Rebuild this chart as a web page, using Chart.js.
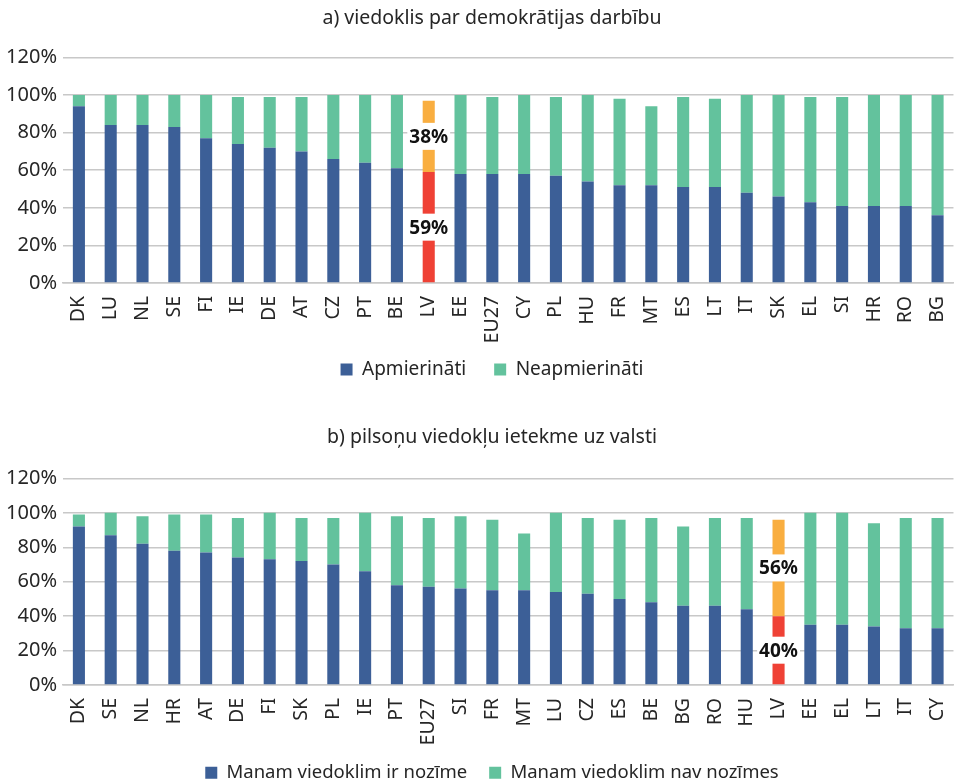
<!DOCTYPE html>
<html>
<head>
<meta charset="utf-8">
<script src="https://cdn.jsdelivr.net/npm/chart.js@4"></script>
<style>
  body { margin: 0; background: #fff; overflow: hidden; }
  .box { position: absolute; left: 0; width: 966px; }
  #boxA { top: 0; height: 389px; }
  #boxB { top: 419px; height: 373px; }
</style>
</head>
<body>
<div class="box" id="boxA"><canvas id="chartA"></canvas></div>
<div class="box" id="boxB"><canvas id="chartB"></canvas></div>
<script>
// a) viedoklis par demokrātijas darbību
const countriesA = ['DK','LU','NL','SE','FI','IE','DE','AT','CZ','PT','BE','LV','EE','EU27','CY','PL','HU','FR','MT','ES','LT','IT','SK','EL','SI','HR','RO','BG'];
const satisfied = [94,84,84,83,77,74,72,70,66,64,61,59,58,58,58,57,54,52,52,51,51,48,46,43,41,41,41,36];
const dissatisfied = [6,16,16,17,23,25,27,29,34,36,39,38,42,41,42,42,46,46,42,48,47,52,54,56,58,59,59,64];

// b) pilsoņu viedokļu ietekme uz valsti
const countriesB = ['DK','SE','NL','HR','AT','DE','FI','SK','PL','IE','PT','EU27','SI','FR','MT','LU','CZ','ES','BE','BG','RO','HU','LV','EE','EL','LT','IT','CY'];
const voiceCounts = [92,87,82,78,77,74,73,72,70,66,58,57,56,55,55,54,53,50,48,46,46,44,40,35,35,34,33,33];
const voiceNot = [7,13,16,21,22,23,27,25,27,34,40,40,42,41,33,46,44,46,49,46,51,53,56,65,65,60,64,64];

const yTicks = [0,20,40,60,80,100,120];

const BLUE = '#3c5f97';
const GREEN = '#63c29d';
const RED = '#ef4135';
const ORANGE = '#f9ae40';
const FONT = 'Noto Sans';
const TEXT = '#262626';

Chart.defaults.font.family = FONT;
Chart.defaults.color = TEXT;

// draws the LV value labels on a white patch
const lvLabels = {
  id: 'lvLabels',
  afterDatasetsDraw(chart) {
    const idx = chart.data.labels.indexOf('LV');
    const ctx = chart.ctx;
    ctx.save();
    ctx.font = 'bold 19px ' + FONT;
    ctx.textAlign = 'center';
    ctx.textBaseline = 'middle';
    chart.data.datasets.forEach((ds, i) => {
      const bar = chart.getDatasetMeta(i).data[idx];
      const y = (bar.y + bar.base) / 2;
      const txt = ds.data[idx] + '%';
      const w = ctx.measureText(txt).width + 4;
      ctx.fillStyle = '#fff';
      ctx.fillRect(bar.x - w / 2, y - 13.5, w, 27);
      ctx.fillStyle = '#111';
      ctx.fillText(txt, bar.x, y + 1);
    });
    ctx.restore();
  }
};

function makeChart(id, title, labels, first, second, names, o) {
  const lv = labels.indexOf('LV');
  return new Chart(document.getElementById(id), {
    type: 'bar',
    data: {
      labels: labels,
      datasets: [{
        label: names[0],
        data: first,
        backgroundColor: c => c.dataIndex === lv ? RED : BLUE
      }, {
        label: names[1],
        data: second,
        backgroundColor: c => c.dataIndex === lv ? ORANGE : GREEN
      }]
    },
    options: {
      responsive: true,
      maintainAspectRatio: false,
      animation: false,
      categoryPercentage: 1,
      barPercentage: 0.38,
      layout: { padding: { left: 20, right: 2, top: 0, bottom: 0 } },
      plugins: {
        title: {
          display: true,
          text: title,
          font: { size: 19.5, weight: 'normal' },
          color: TEXT,
          padding: { top: 7, bottom: o.titleGap }
        },
        legend: {
          position: 'bottom',
          onClick: null,
          labels: {
            boxWidth: 12,
            boxHeight: 12,
            padding: o.legendGap,
            font: { size: o.legendSize },
            color: TEXT
          }
        },
        tooltip: { enabled: false }
      },
      scales: {
        x: {
          stacked: true,
          grid: { display: false },
          border: { color: '#c8c8c8', width: 1.5 },
          ticks: { minRotation: 90, maxRotation: 90, autoSkip: false, font: { size: 19.5 }, padding: 5 },
          afterFit: s => {
            s.height = o.xHeight;
            // let long labels (EU27) run past the shortened axis box
            s._computeLabelArea = () => null;
          }
        },
        y: {
          stacked: true,
          min: 0,
          max: 120,
          afterBuildTicks: s => { s.ticks = yTicks.map(v => ({ value: v })); },
          grid: { color: '#c8c8c8', lineWidth: 1.5, drawTicks: false },
          border: { display: false },
          ticks: { font: { size: 20 }, padding: 6, callback: v => v + '%' },
          afterFit: s => {
            s.width = 43;
            s._computeLabelArea = () => null;
          }
        }
      }
    },
    plugins: [lvLabels]
  });
}

makeChart('chartA', 'a) viedoklis par demokrātijas darbību', countriesA, satisfied, dissatisfied,
  ['Apmierināti', 'Neapmierināti'], { titleGap: 27, xHeight: 49, legendGap: 28, legendSize: 19 });
makeChart('chartB', 'b) pilsoņu viedokļu ietekme uz valsti', countriesB, voiceCounts, voiceNot,
  ['Manam viedoklim ir nozīme', 'Manam viedoklim nav nozīmes'], { titleGap: 29, xHeight: 56.5, legendGap: 22, legendSize: 18.5 });
</script>
</body>
</html>
